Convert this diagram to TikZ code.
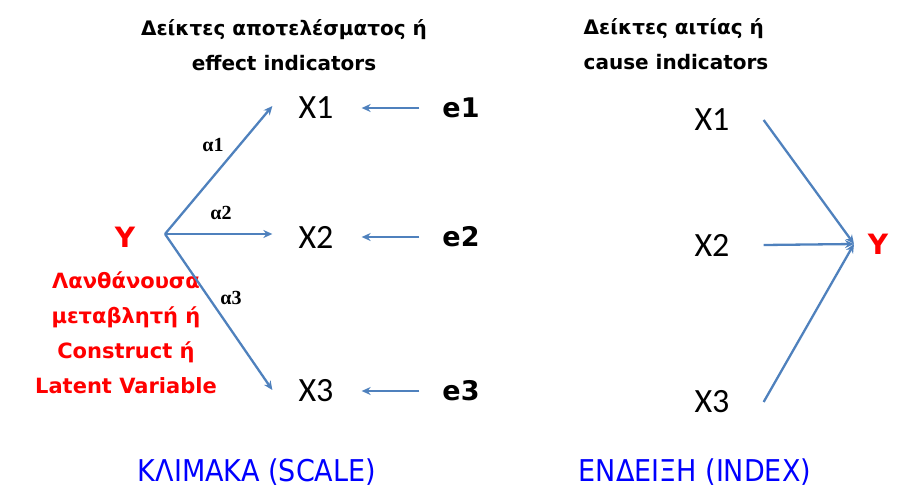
\documentclass[tikz,border=0pt]{standalone}
\usepackage{fontspec}
\setmainfont{Carlito}
\newfontfamily\boldlab{DejaVu Sans}[FontFace={b}{n}{DejaVu Sans Bold}]
\newfontfamily\condlab{DejaVu Sans Condensed}
\newfontfamily\alphafont{Liberation Serif}
\usetikzlibrary{arrows.meta}
\definecolor{arrowblue}{RGB}{79,129,189}
\definecolor{latentred}{RGB}{255,0,0}
\definecolor{titleblue}{RGB}{0,0,255}
\tikzset{
    var/.style={font=\fontsize{34}{34}\selectfont, inner sep=0pt},
    err/.style={font=\boldlab\bfseries\fontsize{27}{27}\selectfont, inner sep=0pt},
    latent/.style={font=\boldlab\bfseries\fontsize{28}{28}\selectfont, text=latentred, inner sep=0pt},
    weight/.style={font=\alphafont\bfseries\fontsize{20}{20}\selectfont, inner sep=0pt},
    heading/.style={font=\boldlab\bfseries\fontsize{20}{35}\selectfont, align=center, inner sep=0pt},
    caption/.style={font=\condlab\fontsize{30}{30}\selectfont, text=titleblue, inner sep=0pt},
    arr/.style={draw=arrowblue, line width=2.3pt, -{Stealth[length=9pt,width=8pt]}}
}
\begin{document}
\begin{tikzpicture}[x=1pt, y=-1pt]
            \useasboundingbox (0, 0) rectangle (924, 490);

            % scale: effect indicators
            \node[heading] (headscale) at (284, 45) {Δείκτες αποτελέσματος ή\\effect indicators};
            \node[latent] (ys) at (125, 237) {Y};
            \node[font=\boldlab\bfseries\fontsize{21}{35}\selectfont, text=latentred, align=center, inner sep=0pt]
                (latentlab) at (126, 333) {Λανθάνουσα\\μεταβλητή ή\\Construct ή\\Latent Variable};

            \node[var] (x1) at (316, 108) {X1};
            \node[var] (x2) at (316, 237) {X2};
            \node[var] (x3) at (316, 391) {X3};

            \node[err] (e1) at (461, 108) {e1};
            \node[err] (e2) at (461, 237) {e2};
            \node[err] (e3) at (461, 391) {e3};

            \coordinate (ystart) at (165, 234);
            \draw[arr] (ystart) -- ([xshift=-26pt, yshift=2pt]x1.west);
            \draw[arr] (ystart) -- ([xshift=-26pt, yshift=3pt]x2.west);
            \draw[arr] (ystart) -- ([xshift=-26pt, yshift=1pt]x3.west);

            \node[weight] (a1) at (213, 145) {α1};
            \node[weight] (a2) at (221, 213) {α2};
            \node[weight] (a3) at (231, 298) {α3};

            \draw[arr] ([xshift=-23pt]e1.west) -- ([xshift=28pt]x1.east);
            \draw[arr] ([xshift=-23pt]e2.west) -- ([xshift=28pt]x2.east);
            \draw[arr] ([xshift=-23pt]e3.west) -- ([xshift=28pt]x3.east);

            \node[caption] (scalecap) at (257, 472) {ΚΛΙΜΑΚΑ (SCALE)};

            % index: cause indicators
            \node[heading, align=left] (headindex) at (676, 44) {Δείκτες αιτίας ή\\cause indicators};

            \node[var] (c1) at (712, 120) {X1};
            \node[var] (c2) at (712, 245) {X2};
            \node[var] (c3) at (712, 402) {X3};
            \node[latent] (yi) at (878, 244) {Y};

            \coordinate (yend) at (854, 244);
            \draw[arr] ([xshift=34pt]c1.east) -- (yend);
            \draw[arr] ([xshift=34pt]c2.east) -- (yend);
            \draw[arr] ([xshift=34pt]c3.east) -- (yend);

            \node[caption] (indexcap) at (695, 472) {ΕΝΔΕΙΞΗ (INDEX)};
        \end{tikzpicture}
\end{document}
